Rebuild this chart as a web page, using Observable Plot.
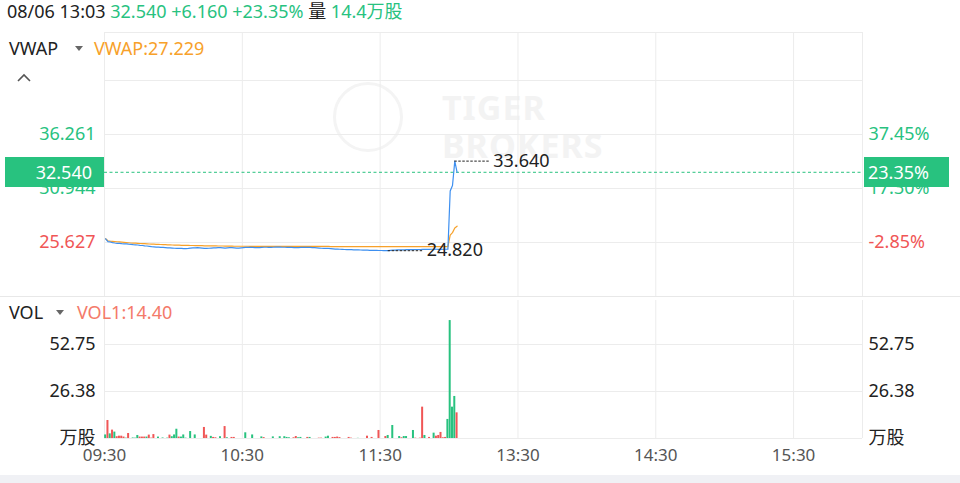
<!DOCTYPE html>
<html><head><meta charset="utf-8">
<script src="https://cdn.jsdelivr.net/npm/d3@7"></script>
<script src="https://cdn.jsdelivr.net/npm/@observablehq/plot@0.6"></script>
<style>
body{margin:0;background:#fff;font-family:"Noto Sans","Noto Sans CJK SC",sans-serif;}
#wrap{position:relative;width:960px;height:483px;overflow:hidden;background:#fff;}
#wrap svg{position:absolute;left:0;overflow:visible;font-family:"Noto Sans","Noto Sans CJK SC",sans-serif;}
.abs{position:absolute;white-space:nowrap;font-size:18px;line-height:18px;}
.tri{position:absolute;width:0;height:0;border-left:4px solid transparent;border-right:4px solid transparent;border-top:5px solid #666;}
</style></head><body><div id="wrap"></div>
<script>
const GREEN = "#28c27f", RED = "#f05656", BLUE = "#3d8ff0", ORANGE = "#f7a12a", GRID = "#ececec", INK = "#222";

// header
const headerTime = "08/06 13:03";
const headerQuote = "32.540 +6.160 +23.35%";
const headerVolLabel = "量";
const headerVol = "14.4万股";
const vwapLabel = "VWAP:27.229";
const volLabel = "VOL1:14.40";

// time axis (trading minutes since 09:30, HK session 330 min)
const sessionMinutes = 330;
const timeTickMinutes = [0, 60, 120, 180, 240, 300];
const timeTickLabels = ["09:30", "10:30", "11:30", "13:30", "14:30", "15:30"];

// price axis
const prevClose = 26.38;
const lastPrice = 32.540;
const lastPct = "23.35%";
const priceDomain = [20.310, 46.304];
const priceTicks = [36.261, 30.944, 25.627];
const pctLabels = ["37.45%", "17.30%", "-2.85%"];
const priceGrid = [41.578, 36.261, 30.944, 25.627];

// per-minute close price
const closes = [
25.99,25.72,25.68,25.62,25.58,25.55,25.55,25.52,25.50,25.50,
25.47,25.45,25.42,25.40,25.38,25.35,25.33,25.30,25.28,25.25,
25.22,25.20,25.18,25.17,25.15,25.14,25.12,25.10,25.10,25.08,
25.06,25.05,25.05,25.04,25.03,25.03,25.05,25.08,25.10,25.10,
25.12,25.10,25.08,25.05,25.05,25.06,25.08,25.10,25.10,25.12,
25.12,25.10,25.08,25.10,25.12,25.12,25.10,25.08,25.08,25.10,
25.12,25.14,25.15,25.15,25.14,25.12,25.12,25.13,25.15,25.16,
25.16,25.15,25.15,25.16,25.18,25.18,25.17,25.16,25.16,25.15,
25.15,25.14,25.13,25.12,25.13,25.14,25.15,25.16,25.15,25.14,
25.13,25.12,25.10,25.08,25.06,25.05,25.05,25.04,25.02,25.00,
24.98,24.97,24.96,24.95,24.94,24.93,24.92,24.92,24.90,24.90,
24.90,24.89,24.88,24.88,24.87,24.86,24.86,24.85,24.85,24.84,
24.84,24.83,24.83,24.82,24.86,24.88,24.88,24.90,24.90,24.90,
24.91,24.92,24.92,24.93,24.93,24.94,24.94,24.94,24.95,24.95,
24.95,24.95,24.96,24.96,24.96,24.95,24.95,24.96,24.96,24.97,
30.70,31.24,33.64,32.54];

// per-minute VWAP
const vwap = [
25.99,25.80,25.76,25.74,25.72,25.70,25.68,25.66,25.64,25.62,
25.60,25.58,25.57,25.56,25.55,25.53,25.52,25.51,25.50,25.48,
25.47,25.46,25.45,25.44,25.43,25.42,25.41,25.40,25.39,25.38,
25.37,25.36,25.36,25.35,25.35,25.34,25.34,25.33,25.33,25.32,
25.32,25.31,25.31,25.30,25.30,25.30,25.29,25.29,25.29,25.28,
25.28,25.28,25.27,25.27,25.27,25.27,25.26,25.26,25.26,25.26,
25.26,25.26,25.26,25.25,25.25,25.25,25.25,25.25,25.25,25.25,
25.25,25.25,25.25,25.25,25.25,25.25,25.25,25.25,25.24,25.24,
25.24,25.24,25.24,25.24,25.24,25.24,25.24,25.24,25.24,25.24,
25.24,25.24,25.24,25.24,25.24,25.24,25.24,25.24,25.23,25.23,
25.23,25.23,25.23,25.23,25.23,25.23,25.23,25.23,25.23,25.23,
25.23,25.23,25.23,25.23,25.23,25.23,25.23,25.22,25.22,25.22,
25.22,25.22,25.22,25.22,25.22,25.22,25.22,25.22,25.22,25.22,
25.22,25.22,25.22,25.22,25.22,25.22,25.22,25.22,25.22,25.22,
25.22,25.22,25.22,25.22,25.22,25.22,25.22,25.22,25.22,25.22,
26.35,26.60,27.06,27.23];

// per-minute volume (万股) and direction (1 up / -1 down)
const volumes = [
2.0,10.1,2.6,4.7,3.6,1.0,1.3,1.3,0.8,0.2,
2.8,0,0.3,0.2,1.7,0.8,0.8,0.8,0.8,1.9,
0.2,2.2,0,0.8,0,0.3,0,0.2,1.9,1.0,
2.0,5.2,0.8,0.8,2.0,0.2,0,3.9,0,2.0,
0,0,0,6.2,1.9,0,1.2,0.6,0.4,0,
1.0,0,6.7,0.4,0,0.6,0.6,0,0,0,
0,3.2,0,0,2.0,0,0,0,0.9,0.5,
0,0,0,0.9,0,0,1.0,0,1.0,0.6,
0.4,0,0.4,1.1,0.4,0.6,0,0,0.6,0.6,
0,0,0,0.2,0.2,0,0.8,1.3,0,0.6,
0.6,0.8,0.5,0,0,0,0.6,0.2,0,0,
0.1,0,0,0,1.3,0,0.6,0,0,4.5,
0,0,1.1,1.7,0,7.3,0,0,1.1,0.4,
1.1,1.1,0,0,4.5,0.2,0,0.2,17.6,1.7,
0,0.6,0,3.0,1.3,1.7,3.4,0.4,0.6,10.7,
66.2,17.6,23.6,14.4];
const volDir = [
1,-1,1,-1,1,-1,-1,-1,-1,1,
-1,1,1,1,1,-1,-1,-1,1,-1,
-1,-1,1,1,1,1,1,1,-1,1,
1,1,-1,1,1,1,1,1,1,1,
1,1,1,-1,-1,1,1,-1,-1,1,
1,1,-1,1,1,-1,-1,1,1,1,
1,1,1,1,1,1,1,1,1,-1,
1,1,1,1,1,1,1,1,1,1,
1,1,-1,-1,1,1,1,1,-1,1,
1,1,1,-1,-1,1,1,1,1,-1,
-1,-1,-1,1,1,1,-1,-1,1,1,
1,1,1,1,-1,1,-1,1,1,-1,
1,1,-1,1,1,1,1,1,1,-1,
1,1,1,1,1,-1,1,-1,-1,1,
1,-1,1,1,-1,-1,-1,-1,-1,1,
1,1,1,-1];
const volDomain = [0, 77.46];
const volTicks = [0, 26.38, 52.75];
const volTickLabels = ["万股", "26.38", "52.75"];

// ---------- build ----------
const wrap = document.getElementById("wrap");
const priceData = closes.map((c, i) => ({m: i + 0.5, close: c, vwap: vwap[i]}));
const volData = volumes.map((v, i) => ({m: i, v, dir: volDir[i]}));
const maxPt = priceData.reduce((a, b) => (b.close > a.close ? b : a));
const minPt = priceData.reduce((a, b) => (b.close < a.close ? b : a));
const annLen = 15;
const fontFamily = '"Noto Sans","Noto Sans CJK SC",sans-serif';

const pricePlot = Plot.plot({
  width: 960, height: 300,
  marginTop: 32, marginBottom: 4, marginLeft: 104, marginRight: 98,
  style: {fontFamily, background: "transparent", overflow: "visible"},
  x: {domain: [0, sessionMinutes], axis: null},
  y: {domain: priceDomain, axis: null},
  color: {type: "identity"},
  marks: [
    Plot.ruleY(priceGrid, {stroke: GRID}),
    Plot.ruleY([priceDomain[1]], {stroke: GRID}),
    Plot.ruleX(timeTickMinutes.concat([sessionMinutes]), {stroke: GRID}),
    Plot.ruleY([lastPrice], {stroke: GREEN, strokeDasharray: "3,2.5"}),
    Plot.lineY(priceData, {x: "m", y: "vwap", stroke: ORANGE, strokeWidth: 1.2}),
    Plot.lineY(priceData, {x: "m", y: "close", stroke: BLUE, strokeWidth: 1.2}),
    Plot.text(priceTicks, {y: d => d, text: d => d.toFixed(3), frameAnchor: "left", textAnchor: "end", dx: -9,
      fill: d => (d >= prevClose ? GREEN : RED), fontSize: 18}),
    Plot.text(priceTicks, {y: d => d, text: (d, i) => pctLabels[i], frameAnchor: "right", textAnchor: "start", dx: 6,
      fill: d => (d >= prevClose ? GREEN : RED), fontSize: 18}),
    Plot.ruleY([maxPt], {y: "close", x1: "m", x2: d => d.m + annLen, stroke: INK, strokeDasharray: "2.5,1.5"}),
    Plot.text([maxPt], {x: d => d.m + annLen, y: "close", text: d => d.close.toFixed(3), dx: 4, textAnchor: "start", fill: INK, fontSize: 18}),
    Plot.ruleY([minPt], {y: "close", x1: "m", x2: d => d.m + annLen, stroke: INK, strokeDasharray: "2.5,1.5"}),
    Plot.text([minPt], {x: d => d.m + annLen, y: "close", text: d => d.close.toFixed(3), dx: 4, textAnchor: "start", fill: INK, fontSize: 18})
  ]
});
pricePlot.style.top = "0px";

const volPlot = Plot.plot({
  width: 960, height: 187,
  marginTop: 4, marginBottom: 45, marginLeft: 104, marginRight: 98,
  style: {fontFamily, background: "transparent", overflow: "visible"},
  x: {domain: [0, sessionMinutes]},
  y: {domain: volDomain, axis: null},
  color: {type: "identity"},
  marks: [
    Plot.ruleY(volTicks, {stroke: GRID}),
    Plot.ruleX(timeTickMinutes.concat([sessionMinutes]), {stroke: GRID}),
    Plot.rectY(volData.filter(d => d.v > 0), {x1: d => d.m, x2: d => d.m + 1, y: "v", insetLeft: 0.15, insetRight: 0.15,
      fill: d => (d.dir > 0 ? GREEN : RED)}),
    Plot.axisX(timeTickMinutes, {tickSize: 0, tickPadding: 10, fontSize: 17, fill: "#555",
      tickFormat: d => timeTickLabels[timeTickMinutes.indexOf(d)]}),
    Plot.text(volTicks, {y: d => d, text: (d, i) => volTickLabels[i], frameAnchor: "left", textAnchor: "end", dx: -9, fill: INK, fontSize: 18}),
    Plot.text(volTicks, {y: d => d, text: (d, i) => volTickLabels[i], frameAnchor: "right", textAnchor: "start", dx: 6, fill: INK, fontSize: 18})
  ]
});
volPlot.style.top = "296px";

// watermark (behind)
const wm = document.createElement("div");
wm.innerHTML = `
<div style="position:absolute;left:333px;top:82px;width:64px;height:64px;border:3px solid #f4f4f4;border-radius:50%"></div>
<div class="abs" style="left:442px;top:90px;font-size:34px;line-height:34px;font-weight:bold;color:#f3f3f3;letter-spacing:1px">TIGER</div>
<div class="abs" style="left:442px;top:128px;font-size:34px;line-height:34px;font-weight:bold;color:#f3f3f3;letter-spacing:1px">BROKERS</div>`;
wrap.appendChild(wm);
wrap.appendChild(pricePlot);
wrap.appendChild(volPlot);

const yP = pricePlot.scale("y");
const lastY = yP.apply(lastPrice);

const html = `
<div style="position:absolute;left:0;top:296px;width:960px;height:1px;background:#e8e8e8"></div>
<div style="position:absolute;left:0;top:475px;width:960px;height:8px;background:#f0f1f5"></div>
<div class="abs" style="left:7px;top:2px;color:${INK}">${headerTime} <span style="color:${GREEN}">${headerQuote}</span> ${headerVolLabel} <span style="color:${GREEN}">${headerVol}</span></div>
<div class="abs" style="left:9px;top:39px;color:${INK}">VWAP</div>
<div class="tri" style="left:75px;top:46px"></div>
<div class="abs" style="left:94px;top:39px;color:${ORANGE}">${vwapLabel}</div>
<svg style="position:absolute;left:0;top:0" width="40" height="90"><polyline points="18,81 24,75 30,81" fill="none" stroke="#555" stroke-width="1.6"/></svg>
<div class="abs" style="left:9px;top:303px;color:${INK}">VOL</div>
<div class="tri" style="left:56px;top:310px"></div>
<div class="abs" style="left:77px;top:303px;color:#f47a6a">${volLabel}</div>
<div style="position:absolute;left:5px;top:${lastY - 15}px;width:99px;height:30px;background:${GREEN}"></div>
<div class="abs" style="left:5px;width:87px;text-align:right;top:${lastY - 9}px;color:#fff">${lastPrice.toFixed(3)}</div>
<div style="position:absolute;left:864px;top:${lastY - 15}px;width:85px;height:30px;background:${GREEN}"></div>
<div class="abs" style="left:868px;top:${lastY - 9}px;color:#fff">${lastPct}</div>`;
const overlay = document.createElement("div");
overlay.innerHTML = html;
while (overlay.firstElementChild) wrap.appendChild(overlay.firstElementChild);
</script>
</body></html>
